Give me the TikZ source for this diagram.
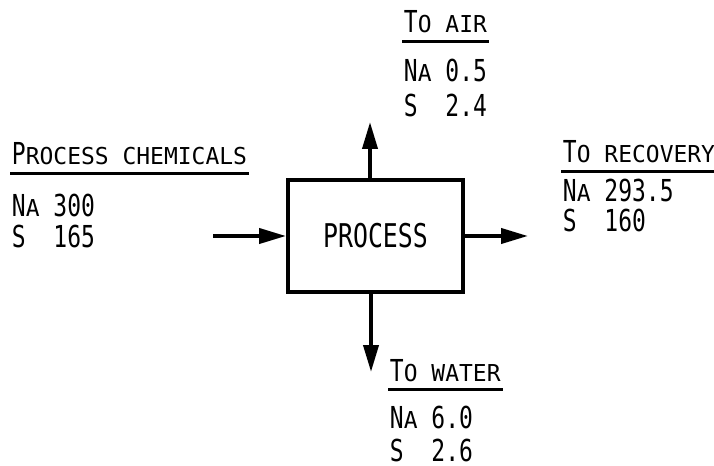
\documentclass[tikz,border=0pt]{standalone}
\usepackage{fontspec}
\setmainfont{DejaVu Sans Mono}[FakeStretch=0.76]
\usetikzlibrary{arrows.meta}

% Kapitaelchen im Schablonenstil
\newcommand{\ksc}[1]{\scalebox{1}[0.77]{\MakeUppercase{#1}}}
% Element + Wert in fester Spalte
\newcommand{\wert}[2]{\makebox[4.15mm][l]{#1}#2}

\begin{document}
\begin{tikzpicture}[>={Triangle[length=2.7mm,width=1.5mm]}, line width=1.1pt,
    font=\fontsize{8.6}{10}\selectfont,
    txt/.style={anchor=base west, inner sep=0pt},
    strom/.style={->},
    unterstr/.style={line width=0.8pt}]

    \useasboundingbox (0,0) rectangle (7.14,4.65);

    % --- Prozess ---
    \node[draw, minimum width=1.75cm, minimum height=1.12cm, font=\fontsize{9.3}{11}\selectfont] (proc) at (3.755,2.29) {PROCESS};

    % --- Zulauf (links) ---
    \node[txt] (chemT) at (0.10,3.00) {P\ksc{rocess chemicals}};
    \node[txt] (chemNa) at (0.10,2.48) {\wert{N\ksc{a}}{300}};
    \node[txt] (chemS) at (0.10,2.17) {\wert{S}{165}};

    % --- Luft (oben) ---
    \node[txt] (luftT) at (4.02,4.32) {T\ksc{o air}};
    \node[txt] (luftNa) at (4.02,3.83) {\wert{N\ksc{a}}{0.5}};
    \node[txt] (luftS) at (4.02,3.48) {\wert{S}{2.4}};

    % --- Rueckgewinnung (rechts) ---
    \node[txt] (rueckT) at (5.61,3.02) {T\ksc{o recovery}};
    \node[txt] (rueckNa) at (5.61,2.63) {\wert{N\ksc{a}}{293.5}};
    \node[txt] (rueckS) at (5.61,2.33) {\wert{S}{160}};

    % --- Wasser (unten) ---
    \node[txt] (wasserT) at (3.88,0.84) {T\ksc{o water}};
    \node[txt] (wasserNa) at (3.88,0.37) {\wert{N\ksc{a}}{6.0}};
    \node[txt] (wasserS) at (3.88,0.04) {\wert{S}{2.6}};

    % Unterstreichungen
    \foreach \h in {chemT,luftT,rueckT,wasserT}
        \draw[unterstr] ([yshift=-0.6mm]\h.south west) -- ([yshift=-0.6mm]\h.south east);

    % --- Stroeme ---
    \coordinate (ein) at (2.13,2.29);
    \coordinate (rueck) at (5.28,2.29);
    \coordinate (luft) at (3.70,3.43);
    \coordinate (wasser) at (3.71,0.93);

    \draw[strom] (ein) -- (proc.west);
    \draw[strom] (proc.east) -- (rueck);
    \draw[strom] (luft |- proc.north) -- (luft);
    \draw[strom] (wasser |- proc.south) -- (wasser);

\end{tikzpicture}
\end{document}
